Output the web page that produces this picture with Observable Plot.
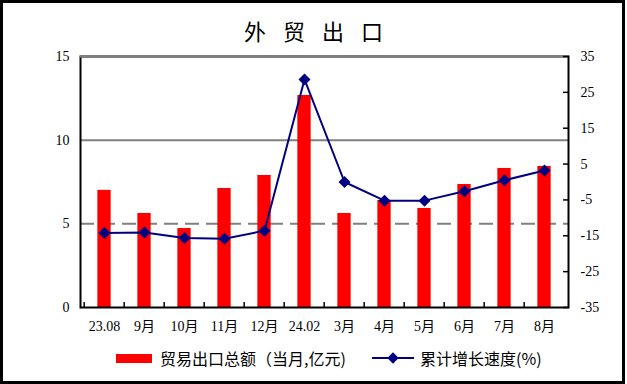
<!DOCTYPE html>
<html>
<head>
<meta charset="utf-8">
<script src="https://cdn.jsdelivr.net/npm/d3@7"></script>
<script src="https://cdn.jsdelivr.net/npm/@observablehq/plot@0.6"></script>
<style>
  html, body { margin: 0; padding: 0; background: #fff; }
  #wrap { position: relative; width: 627px; height: 384px; overflow: hidden; background: #fff; }
  #border { position: absolute; left: 0; top: 0; width: 625px; height: 384px; box-sizing: border-box; border: 3px solid #000; pointer-events: none; }
  #title { position: absolute; left: 0; top: 14px; width: 627px; text-align: center; font-family: "Noto Sans CJK SC", sans-serif; font-size: 22px; line-height: 32px; letter-spacing: 17px; padding-left: 17px; box-sizing: border-box; color: #000; }
  #chart { position: absolute; left: 0; top: 44px; }
  .lg { position: absolute; font-family: "Noto Sans CJK SC", sans-serif; font-size: 16px; line-height: 20px; color: #000; white-space: nowrap; }
  .sw-bar { position: absolute; left: 116px; top: 354px; width: 36px; height: 9px; background: #ff0000; }
  .sw-line { position: absolute; left: 372px; top: 357px; width: 42px; height: 2px; background: #000080; }
  .sw-dia { position: absolute; left: 389px; top: 354px; width: 8px; height: 8px; background: #000080; transform: rotate(45deg); }
</style>
</head>
<body>
<div id="wrap">
  <div id="title">外贸出口</div>
  <div id="chart"></div>
  <div class="sw-bar"></div>
  <div class="lg" style="left:160px; top:348px;">贸易出口总额（当月,亿元)</div>
  <div class="sw-line"></div>
  <div class="sw-dia"></div>
  <div class="lg" style="left:420px; top:348px;">累计增长速度(%)</div>
  <div id="border"></div>
</div>
<script>
const categories = ["23.08", "9月", "10月", "11月", "12月", "24.02", "3月", "4月", "5月", "6月", "7月", "8月"];
const exportValues = [7.0, 5.62, 4.72, 7.11, 7.89, 12.67, 5.62, 6.40, 5.92, 7.35, 8.31, 8.43];
const growthValues = [-14.2, -14.1, -15.6, -15.8, -13.6, 28.6, 0.0, -5.2, -5.2, -2.6, 0.5, 3.2];
const leftTicks = [0, 5, 10, 15];
const rightTicks = [-35, -25, -15, -5, 5, 15, 25, 35];
const leftDomain = [0, 15];
const rightDomain = [-35, 35];

const toLeft = v => leftDomain[0] + (v - rightDomain[0]) / (rightDomain[1] - rightDomain[0]) * (leftDomain[1] - leftDomain[0]);
const fromLeft = v => rightDomain[0] + (v - leftDomain[0]) / (leftDomain[1] - leftDomain[0]) * (rightDomain[1] - rightDomain[0]);

const bars = categories.map((c, i) => ({cat: c, value: exportValues[i]}));
const growth = categories.map((c, i) => ({cat: c, rate: growthValues[i], yv: toLeft(growthValues[i])}));

const W = 627, H = 300, mL = 80, mR = 59, mT = 12, mB = 37;
const bw = (W - mL - mR) / categories.length;
const barInset = (bw - 14) / 2;

const chart = Plot.plot({
  width: W, height: H,
  marginLeft: mL, marginRight: mR, marginTop: mT, marginBottom: mB,
  style: {fontFamily: '"Liberation Serif", "Noto Sans CJK SC", serif', fontSize: "14px", color: "#000", background: "transparent", overflow: "visible"},
  x: {type: "band", domain: categories, padding: 0, axis: null, label: null},
  y: {domain: leftDomain, axis: null, label: null},
  marks: [
    Plot.ruleY([10], {stroke: "#808080", strokeWidth: 2}),
    Plot.ruleY([5], {stroke: "#808080", strokeWidth: 2, strokeDasharray: "14,7"}),
    Plot.barY(bars, {x: "cat", y: "value", fill: "#ff0000", insetLeft: barInset, insetRight: barInset}),
    Plot.frame({stroke: "#000", strokeWidth: 2}),
    Plot.ruleY([15], {stroke: "#808080", strokeWidth: 2}),
    Plot.axisX({anchor: "bottom", tickSize: -5, dx: -bw / 2, strokeWidth: 1.5, stroke: "#000", tickFormat: () => "", label: null}),
    Plot.axisX({anchor: "bottom", tickSize: 0, tickPadding: 14, fill: "#000", label: null}),
    Plot.axisY({anchor: "left", ticks: leftTicks, tickSize: 0, tickPadding: 11, fill: "#000", tickFormat: d => String(d), label: null}),
    Plot.axisY({anchor: "right", ticks: rightTicks.map(toLeft), tickSize: -6, strokeWidth: 1.5, stroke: "#000", tickFormat: () => "", label: null}),
    Plot.axisY({anchor: "right", ticks: rightTicks.map(toLeft), tickSize: 0, tickPadding: 12, fill: "#000", tickFormat: d => String(Math.round(fromLeft(d))), label: null}),
    Plot.line(growth, {x: "cat", y: "yv", stroke: "#000080", strokeWidth: 2}),
    Plot.dot(growth, {x: "cat", y: "yv", symbol: "diamond2", r: 5.4, fill: "#000080", stroke: "none"})
  ]
});
document.getElementById("chart").appendChild(chart);
</script>
</body>
</html>
